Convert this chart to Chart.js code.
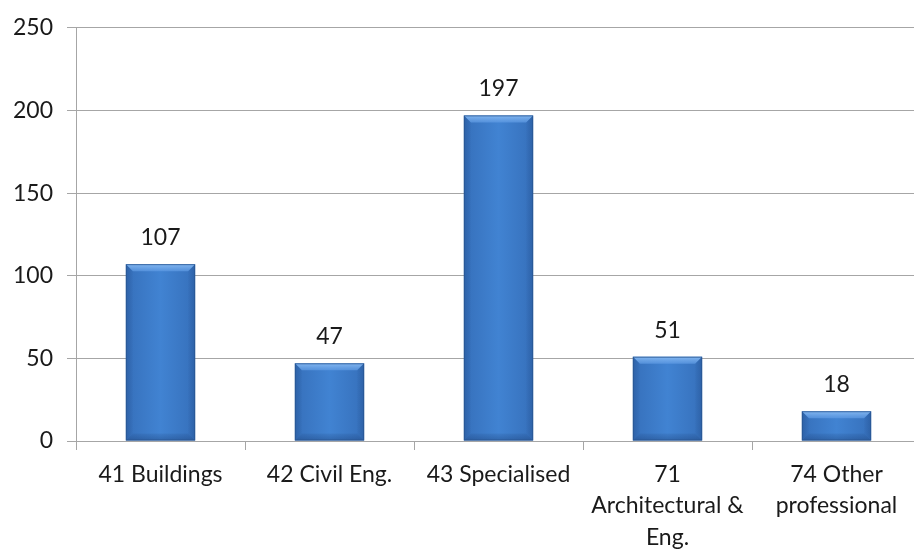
<!DOCTYPE html>
<html>
<head>
<meta charset="utf-8">
<script src="https://cdn.jsdelivr.net/npm/chart.js@4/dist/chart.umd.min.js"></script>
<style>
  html, body { margin: 0; padding: 0; background: #fff; overflow: hidden; }
  #wrap { width: 924px; height: 553px; position: relative; }
</style>
</head>
<body>
<div id="wrap"><canvas id="chart"></canvas></div>
<script>
const categories = ['41 Buildings', '42 Civil Eng.', '43 Specialised', ['71', 'Architectural &', 'Eng.'], ['74 Other', 'professional']];
const counts = [107, 47, 197, 51, 18];
const yTicks = [0, 50, 100, 150, 200, 250];

const FONT = 'Lato, "Open Sans", sans-serif';

// horizontal shading for each bar
function barFill(c) {
  const xs = c.chart.scales.x;
  if (!xs) return '#3b78c6';
  const x = xs.getPixelForValue(c.dataIndex);
  const w = xs.width / categories.length * 0.41;
  if (!isFinite(x) || !isFinite(w) || w <= 0) return '#3b78c6';
  const g = c.chart.ctx.createLinearGradient(x - w / 2, 0, x + w / 2, 0);
  g.addColorStop(0, '#3670bb');
  g.addColorStop(0.5, '#4183d2');
  g.addColorStop(1, '#3670bb');
  return g;
}

// soft bevel edges + value labels
const bevelAndLabels = {
  id: 'bevelAndLabels',
  afterDatasetsDraw(chart) {
    const ctx = chart.ctx;
    const b = 7;
    chart.getDatasetMeta(0).data.forEach((bar, i) => {
      const l = bar.x - bar.width / 2, r = bar.x + bar.width / 2;
      const t = bar.y, bot = bar.base;
      const poly = (pts, fill) => {
        ctx.beginPath();
        ctx.moveTo(pts[0][0], pts[0][1]);
        pts.slice(1).forEach(p => ctx.lineTo(p[0], p[1]));
        ctx.closePath();
        ctx.fillStyle = fill;
        ctx.fill();
      };
      ctx.save();
      const bb = Math.min(b, (bot - t) / 2);
      const tg = ctx.createLinearGradient(0, t, 0, t + bb);
      tg.addColorStop(0, 'rgba(140,190,245,0.9)');
      tg.addColorStop(1, 'rgba(95,155,228,0.7)');
      poly([[l, t], [r, t], [r - bb, t + bb], [l + bb, t + bb]], tg);
      const lg = ctx.createLinearGradient(l, 0, l + bb, 0);
      lg.addColorStop(0, 'rgba(30,70,130,0.35)');
      lg.addColorStop(1, 'rgba(30,70,130,0.05)');
      poly([[l, t], [l + bb, t + bb], [l + bb, bot - bb], [l, bot]], lg);
      const rg = ctx.createLinearGradient(r, 0, r - bb, 0);
      rg.addColorStop(0, 'rgba(30,70,130,0.35)');
      rg.addColorStop(1, 'rgba(30,70,130,0.05)');
      poly([[r, t], [r - bb, t + bb], [r - bb, bot - bb], [r, bot]], rg);
      const bg = ctx.createLinearGradient(0, bot, 0, bot - bb);
      bg.addColorStop(0, 'rgba(25,60,115,0.4)');
      bg.addColorStop(1, 'rgba(25,60,115,0.1)');
      poly([[l, bot], [l + bb, bot - bb], [r - bb, bot - bb], [r, bot]], bg);
      ctx.strokeStyle = 'rgba(40,85,145,0.8)';
      ctx.lineWidth = 1;
      ctx.strokeRect(l + 0.5, t + 0.5, r - l - 1, bot - t - 1);
      ctx.restore();

      ctx.save();
      ctx.font = '23px ' + FONT;
      ctx.fillStyle = '#1a1a1a';
      ctx.textAlign = 'center';
      ctx.textBaseline = 'alphabetic';
      ctx.fillText(counts[i], bar.x, t - 19);
      ctx.restore();
    });
  }
};

new Chart(document.getElementById('chart').getContext('2d'), {
  type: 'bar',
  data: {
    labels: categories,
    datasets: [{
      data: counts,
      backgroundColor: barFill,
      borderWidth: 0,
      barPercentage: 0.41,
      categoryPercentage: 1
    }]
  },
  options: {
    responsive: true,
    maintainAspectRatio: false,
    animation: false,
    layout: { padding: { top: 27, right: 3, left: 0, bottom: 0 } },
    plugins: {
      legend: { display: false },
      tooltip: { enabled: false }
    },
    scales: {
      y: {
        min: 0,
        max: 250,
        afterBuildTicks: s => { s.ticks = yTicks.map(v => ({ value: v })); },
        afterFit: s => { s.width = 76; },
        grid: { color: '#a6a6a6', tickLength: 9, drawTicks: true },
        border: { color: '#a6a6a6' },
        ticks: { color: '#1a1a1a', padding: 14, font: { family: FONT, size: 23 } }
      },
      x: {
        afterFit: s => { s.height = 112; },
        grid: { display: true, drawOnChartArea: false, color: '#a6a6a6', tickLength: 9, offset: true },
        border: { color: '#a6a6a6' },
        ticks: { color: '#1a1a1a', padding: 9, maxRotation: 0, autoSkip: false, font: { family: FONT, size: 23, lineHeight: 1.36 } }
      }
    }
  },
  plugins: [bevelAndLabels]
});
</script>
</body>
</html>
